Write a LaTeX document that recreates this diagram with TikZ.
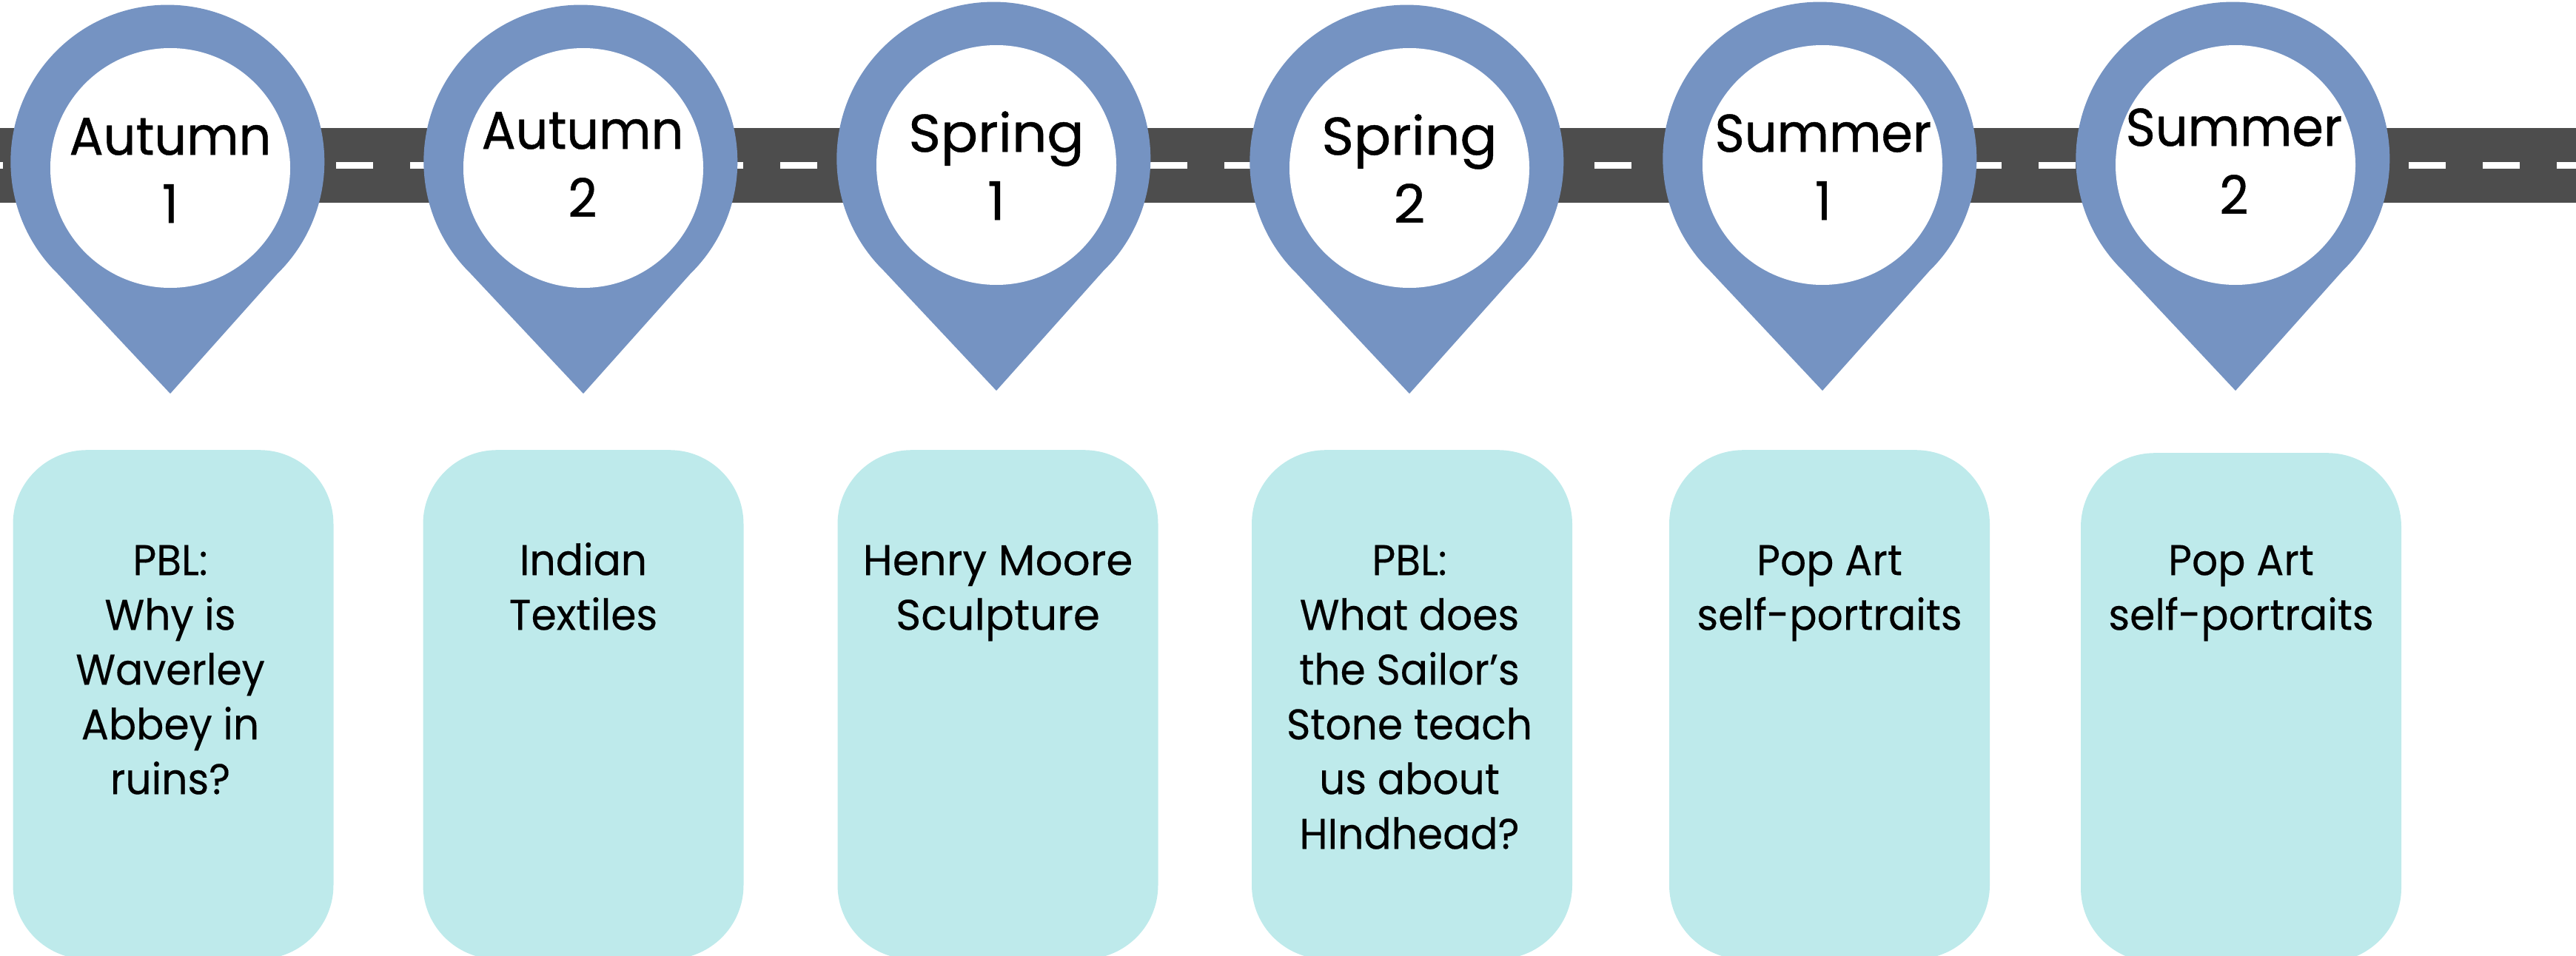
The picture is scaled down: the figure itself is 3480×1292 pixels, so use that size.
\documentclass[tikz,border=0pt]{standalone}
\usepackage{fontspec}
\setmainfont{Poppins}
\newfontfamily\pinfont{Poppins}[FakeBold=0.6,FakeStretch=0.95]
\newfontfamily\springfont{Poppins}[FakeBold=0.6,FakeStretch=1.03]
\newfontfamily\boxfont{Poppins}[FakeBold=0.25,FakeStretch=0.95]
\newfontfamily\widefont{Poppins}[FakeBold=0.25,FakeStretch=1.0]
\definecolor{pinblue}{HTML}{7593C2}
\definecolor{roadgrey}{HTML}{4D4D4D}
\definecolor{boxteal}{HTML}{BEEAEB}
\tikzset{
  x=1pt,y=-1pt,
  pinshape/.style={fill=pinblue,draw=none},
  pinhole/.style={fill=white,draw=none},
  roaddash/.style={fill=white,draw=none},
  pinlabel/.style={align=center,inner sep=0pt,anchor=north,font=\pinfont\fontsize{72}{92}\selectfont,text=black},
  springlabel/.style={pinlabel,font=\springfont\fontsize{72}{92}\selectfont},
  infobox/.style={fill=boxteal,draw=none,rounded corners=100pt,minimum width=433pt,minimum height=688pt,inner sep=0pt,anchor=north},
  boxtext/.style={align=center,inner sep=0pt,anchor=north,font=\boxfont\fontsize{58}{74}\selectfont,text=black},
  widetext/.style={boxtext,font=\widefont\fontsize{58}{74}\selectfont},
}
\newcommand{\drawpin}[2]{% cx, dy
  \fill[pinshape] (#1-152,#2+370) arc [start angle=225.6,end angle=-45.6,x radius=212pt,y radius=212pt] -- (#1,#2+532) -- cycle;
  \fill[pinhole] (#1,#2+227) circle [radius=162pt];
}
\newcommand{\pinstrut}{\rule{0pt}{70pt}}
\newcommand{\boxstrut}{\rule{0pt}{55pt}}
\begin{document}
\begin{tikzpicture}
\useasboundingbox (0,0) rectangle (3480,1292);
\begin{scope}
\clip (0,0) rectangle (3480,1292);
\fill[roadgrey] (0,173) rectangle (3480,274);
\foreach \i in {-1,0,...,34}{
  \fill[roaddash] (54+100*\i,219) rectangle (104+100*\i,228);
}
\drawpin{230}{0}
\drawpin{788}{0}
\drawpin{1346}{-4}
\drawpin{1904}{0}
\drawpin{2462}{-4}
\drawpin{3020}{-4}
\node[infobox] (b1) at (234,608) {};
\node[infobox] (b2) at (788,608) {};
\node[infobox] (b3) at (1348,608) {};
\node[infobox] (b4) at (1907.5,608) {};
\node[infobox] (b5) at (2471.5,608) {};
\node[infobox] (b6) at (3027.5,612) {};
\end{scope}
\node[pinlabel] (l1) at (230,139) {\pinstrut Autumn\\1};
\node[pinlabel] (l2) at (787,131) {\pinstrut Autumn\\2};
\node[springlabel] (l3) at (1346,135) {\pinstrut Spring\\1};
\node[springlabel] (l4) at (1904,139) {\pinstrut Spring\\2};
\node[pinlabel] (l5) at (2463,135) {\pinstrut Summer\\1};
\node[pinlabel] (l6) at (3018,127) {\pinstrut Summer\\2};
\node[boxtext] (t1) at (230,722) {\boxstrut PBL:\\Why is\\Waverley\\Abbey in\\ruins?};
\node[boxtext] (t2) at (788,722) {\boxstrut Indian\\Textiles};
\node[widetext] (t3) at (1348,722) {\boxstrut Henry Moore\\Sculpture};
\node[boxtext] (t4) at (1904,722) {\boxstrut PBL:\\What does\\the Sailor’s\\Stone teach\\us about\\HIndhead?};
\node[boxtext] (t5) at (2471.5,722) {\boxstrut Pop Art\\self-portraits};
\node[boxtext] (t6) at (3027.5,722) {\boxstrut Pop Art\\self-portraits};
\end{tikzpicture}
\end{document}
